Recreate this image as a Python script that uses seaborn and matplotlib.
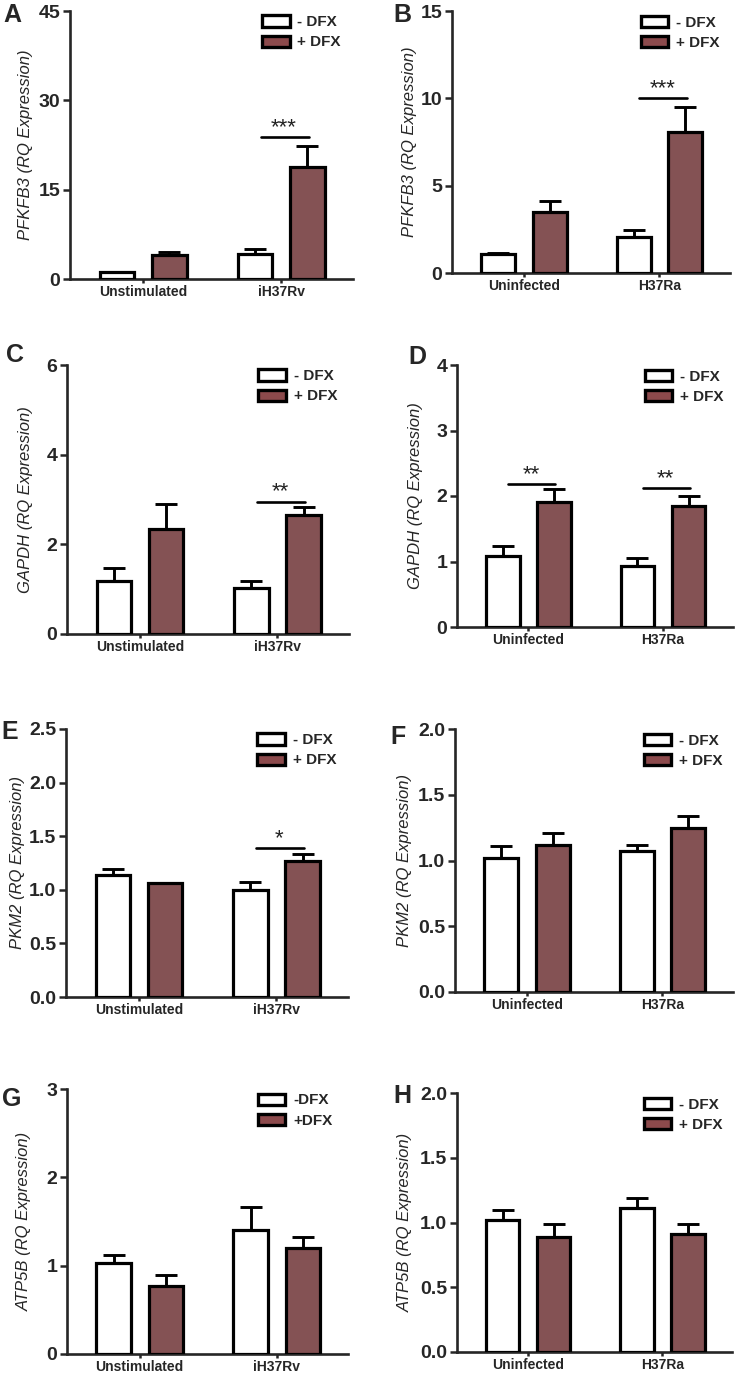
import matplotlib
matplotlib.use("Agg")
import matplotlib.pyplot as plt
import pandas as pd
import seaborn as sns
from matplotlib.patches import Patch

# ---- data (mean, upper SEM) ----
stim_groups = ["Unstimulated", "iH37Rv"]
infect_groups = ["Uninfected", "H37Ra"]

pfkfb3_stim_minus = [1.1, 4.2]
pfkfb3_stim_plus = [4.0, 18.8]
pfkfb3_stim_minus_err = [0.0, 0.8]
pfkfb3_stim_plus_err = [0.5, 3.5]

pfkfb3_inf_minus = [1.1, 2.05]
pfkfb3_inf_plus = [3.5, 8.05]
pfkfb3_inf_minus_err = [0.05, 0.4]
pfkfb3_inf_plus_err = [0.6, 1.45]

gapdh_stim_minus = [1.18, 1.03]
gapdh_stim_plus = [2.34, 2.65]
gapdh_stim_minus_err = [0.29, 0.15]
gapdh_stim_plus_err = [0.56, 0.18]

gapdh_inf_minus = [1.08, 0.93]
gapdh_inf_plus = [1.91, 1.85]
gapdh_inf_minus_err = [0.16, 0.13]
gapdh_inf_plus_err = [0.19, 0.15]

pkm2_stim_minus = [1.14, 1.0]
pkm2_stim_plus = [1.06, 1.27]
pkm2_stim_minus_err = [0.05, 0.07]
pkm2_stim_plus_err = [0.0, 0.06]

pkm2_inf_minus = [1.02, 1.07]
pkm2_inf_plus = [1.12, 1.25]
pkm2_inf_minus_err = [0.09, 0.05]
pkm2_inf_plus_err = [0.09, 0.09]

atp5b_stim_minus = [1.03, 1.4]
atp5b_stim_plus = [0.77, 1.2]
atp5b_stim_minus_err = [0.09, 0.26]
atp5b_stim_plus_err = [0.13, 0.13]

atp5b_inf_minus = [1.02, 1.11]
atp5b_inf_plus = [0.89, 0.915]
atp5b_inf_minus_err = [0.075, 0.08]
atp5b_inf_plus_err = [0.095, 0.07]

# significance bars: (group index, y value, stars)
sig_a = [(1, 23.8, "***")]
sig_b = [(1, 10.0, "***")]
sig_c = [(1, 2.95, "**")]
sig_d = [(0, 2.18, "**"), (1, 2.12, "**")]
sig_e = [(1, 1.39, "*")]

RED = "#8C4A4C"
W, H = 739, 1377

sns.set_style("ticks")
plt.rcParams["font.family"] = ["Liberation Sans", "DejaVu Sans"]


def px_axes(fig, left, right, top, bottom):
    return fig.add_axes([left / W, 1 - bottom / H, (right - left) / W, (bottom - top) / H])


def draw_panel(ax, groups, minus, plus, minus_err, plus_err, ylim, yticks, fmt,
               ylabel, sig, labels, width_px, label_off):
    df = pd.DataFrame({
        "group": groups * 2,
        "treatment": [labels[0]] * len(groups) + [labels[1]] * len(groups),
        "value": list(minus) + list(plus),
    })
    sns.barplot(data=df, x="group", y="value", hue="treatment",
                palette={labels[0]: "white", labels[1]: RED},
                hue_order=labels, order=groups, width=0.76, gap=0.34,
                errorbar=None, edgecolor="black", linewidth=2.3,
                legend=False, ax=ax, zorder=3)

    bars = sorted(ax.patches, key=lambda p: p.get_x())
    errs = []
    for i in range(len(groups)):
        errs += [minus_err[i], plus_err[i]]
    for bar, e in zip(bars, errs):
        if e <= 0:
            continue
        xc = bar.get_x() + bar.get_width() / 2
        ax.errorbar(xc, bar.get_height(), yerr=[[0], [e]], color="black",
                    lw=2.1, capsize=8, capthick=2.1, zorder=2)

    for gi, y, stars in sig:
        ax.plot([gi - 0.15, gi + 0.2], [y, y], color="black", lw=1.9, zorder=4)
        ax.annotate(stars, (gi + 0.02, y), xytext=(0, 7), textcoords="offset points",
                    ha="center", va="center", fontsize=16, color="#222222")

    ax.set_xlim(-0.53, 1.52)
    ax.set_ylim(*ylim)
    ax.set_yticks(yticks)
    ax.set_yticklabels([fmt.format(t) for t in yticks])
    ax.set_xlabel("")
    ax.set_ylabel(ylabel, fontsize=12, style="italic")
    ax.yaxis.set_label_coords(label_off / width_px, 0.5)
    sns.despine(ax=ax)
    for s in ["left", "bottom"]:
        ax.spines[s].set_linewidth(1.9)
    ax.tick_params(axis="y", length=5, width=1.8, labelsize=14, pad=2)
    ax.tick_params(axis="x", length=3, width=1.8, labelsize=10, pad=1.5)
    for t in ax.get_yticklabels() + ax.get_xticklabels():
        t.set_fontweight("bold")

    handles = [Patch(facecolor="white", edgecolor="black", lw=2.4),
               Patch(facecolor=RED, edgecolor="black", lw=2.4)]
    ax.legend(handles, labels, loc="upper left", bbox_to_anchor=(0.63, 1.035),
              frameon=False, handlelength=1.8, handleheight=0.75,
              handletextpad=0.5, labelspacing=0.4,
              prop={"weight": "bold", "size": 11})


fig = plt.figure(figsize=(W / 100, H / 100), dpi=100)

lab = ["- DFX", "+ DFX"]
panels = [
    ("A", (70, 353, 11, 279), (3, 3), -37, stim_groups, pfkfb3_stim_minus, pfkfb3_stim_plus,
     pfkfb3_stim_minus_err, pfkfb3_stim_plus_err, (0, 45), [0, 15, 30, 45], "{:g}",
     "PFKFB3 (RQ Expression)", sig_a, lab),
    ("B", (452, 730, 11, 273), (393, 3), -35, infect_groups, pfkfb3_inf_minus, pfkfb3_inf_plus,
     pfkfb3_inf_minus_err, pfkfb3_inf_plus_err, (0, 15), [0, 5, 10, 15], "{:g}",
     "PFKFB3 (RQ Expression)", sig_b, lab),
    ("C", (67, 349, 365, 634), (6, 343), -34, stim_groups, gapdh_stim_minus, gapdh_stim_plus,
     gapdh_stim_minus_err, gapdh_stim_plus_err, (0, 6), [0, 2, 4, 6], "{:g}",
     "GAPDH (RQ Expression)", sig_c, lab),
    ("D", (457, 733, 365, 627), (408, 345), -34, infect_groups, gapdh_inf_minus, gapdh_inf_plus,
     gapdh_inf_minus_err, gapdh_inf_plus_err, (0, 4), [0, 1, 2, 3, 4], "{:g}",
     "GAPDH (RQ Expression)", sig_d, lab),
    ("E", (66, 348, 729, 997), (1, 720), -41, stim_groups, pkm2_stim_minus, pkm2_stim_plus,
     pkm2_stim_minus_err, pkm2_stim_plus_err, (0, 2.5), [0, 0.5, 1.0, 1.5, 2.0, 2.5], "{:.1f}",
     "PKM2 (RQ Expression)", sig_e, lab),
    ("F", (455, 733, 729, 992), (390, 725), -43, infect_groups, pkm2_inf_minus, pkm2_inf_plus,
     pkm2_inf_minus_err, pkm2_inf_plus_err, (0, 2.0), [0, 0.5, 1.0, 1.5, 2.0], "{:.1f}",
     "PKM2 (RQ Expression)", [], lab),
    ("G", (67, 348, 1089, 1354), (2, 1087), -35, stim_groups, atp5b_stim_minus, atp5b_stim_plus,
     atp5b_stim_minus_err, atp5b_stim_plus_err, (0, 3), [0, 1, 2, 3], "{:g}",
     "ATP5B (RQ Expression)", [], ["-DFX", "+DFX"]),
    ("H", (457, 732, 1093, 1352), (393, 1084), -44, infect_groups, atp5b_inf_minus, atp5b_inf_plus,
     atp5b_inf_minus_err, atp5b_inf_plus_err, (0, 2.0), [0, 0.5, 1.0, 1.5, 2.0], "{:.1f}",
     "ATP5B (RQ Expression)", [], lab),
]

for (letter, box, lpos, loff, groups, mn, pl, mne, ple, ylim, yticks, fmt,
     ylabel, sig, labels) in panels:
    ax = px_axes(fig, *box)
    draw_panel(ax, groups, mn, pl, mne, ple, ylim, yticks, fmt, ylabel, sig,
               labels, box[1] - box[0], loff)
    fig.text(lpos[0] / W, 1 - lpos[1] / H, letter, ha="left", va="top",
             fontsize=18, fontweight="bold")

fig.savefig("out.png", dpi=100)
